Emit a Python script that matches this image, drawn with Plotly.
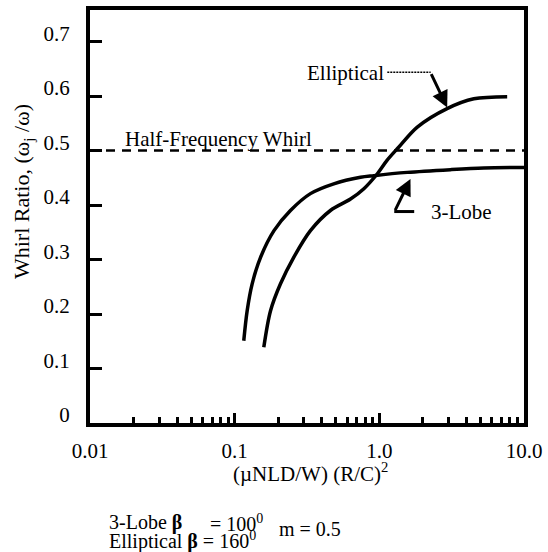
import plotly.graph_objects as go

# ---------------- data ----------------
three_lobe_x = [0.1156, 0.122, 0.132, 0.151, 0.187, 0.243, 0.334, 0.484, 0.741, 0.916, 1.56, 3.10, 5.27, 10.0]
three_lobe_y = [0.151, 0.206, 0.255, 0.304, 0.353, 0.390, 0.421, 0.439, 0.451, 0.454, 0.460, 0.465, 0.468, 0.469]

elliptical_x = [0.159, 0.177, 0.207, 0.256, 0.334, 0.459, 0.632, 0.782, 0.966, 1.13, 1.36, 1.83, 2.94, 4.50, 7.65]
elliptical_y = [0.139, 0.206, 0.255, 0.304, 0.353, 0.390, 0.411, 0.430, 0.457, 0.482, 0.506, 0.543, 0.577, 0.595, 0.599]

half_frequency = 0.5

x_tick_vals = [0.01, 0.1, 1.0, 10.0]
x_tick_text = ["0.01", "0.1", "1.0", "10.0"]
y_tick_vals = [0, 0.1, 0.2, 0.3, 0.4, 0.5, 0.6, 0.7]
y_tick_text = ["0", "0.1", "0.2", "0.3", "0.4", "0.5", "0.6", "0.7"]

FONT = "Liberation Serif, Times New Roman, serif"

minor_vals = [k * 10 ** e for e in (-2, -1, 0) for k in range(2, 10)]

fig = go.Figure()
fig.add_trace(go.Scatter(x=three_lobe_x, y=three_lobe_y, mode="lines",
                         line=dict(color="black", width=3.5, shape="spline", smoothing=0.9),
                         name="3-Lobe", showlegend=False, hoverinfo="skip"))
fig.add_trace(go.Scatter(x=elliptical_x, y=elliptical_y, mode="lines",
                         line=dict(color="black", width=3.5, shape="spline", smoothing=0.9),
                         name="Elliptical", showlegend=False, hoverinfo="skip"))

# half-frequency whirl dashed line
fig.add_shape(type="line", xref="paper", x0=0, x1=1, yref="y", y0=half_frequency, y1=half_frequency,
              line=dict(color="black", width=2.5, dash="9px,7px"))
# leader line after "Elliptical"
fig.add_shape(type="line", xref="paper", yref="paper", x0=0.685, x1=0.785, y0=0.849, y1=0.849,
              line=dict(color="black", width=1.5, dash="2px,1px"))
# bottom bar of the 3-Lobe L-arrow
fig.add_shape(type="line", xref="paper", yref="paper", x0=0.701, x1=0.747, y0=0.512, y1=0.512,
              line=dict(color="black", width=3))

ann = []
# Elliptical label and arrow
ann.append(dict(x=0.0426, y=0.643, xref="x", yref="y", text="Elliptical", showarrow=False,
                xanchor="right", yanchor="middle", font=dict(family=FONT, size=21, color="black")))
ann.append(dict(x=0.469, y=0.579, xref="x", yref="y", ax=0.354, ay=0.643, axref="x", ayref="y",
                text="", showarrow=True, arrowhead=2, arrowsize=1.1, arrowwidth=3, arrowcolor="black",
                standoff=0, startstandoff=0))
# 3-Lobe label and arrow
ann.append(dict(x=0.342, y=0.388, xref="x", yref="y", text="3-Lobe", showarrow=False,
                xanchor="left", yanchor="middle", font=dict(family=FONT, size=21, color="black")))
ann.append(dict(x=0.2154, y=0.448, xref="x", yref="y", ax=0.1048, ay=0.388, axref="x", ayref="y",
                text="", showarrow=True, arrowhead=2, arrowsize=1.1, arrowwidth=3, arrowcolor="black",
                standoff=0, startstandoff=0))
# Half-frequency label
ann.append(dict(x=-1.775, y=0.522, xref="x", yref="y", text="Half-Frequency Whirl", showarrow=False,
                xanchor="left", yanchor="middle", font=dict(family=FONT, size=21, color="black")))
# axis titles
ann.append(dict(x=0.508, y=-0.12, xref="paper", yref="paper", text="(µNLD/W) (R/C)<sup>2</sup>",
                showarrow=False, xanchor="center", yanchor="middle",
                font=dict(family=FONT, size=21, color="black")))
ann.append(dict(x=-0.1555, y=0.5605, xref="paper", yref="paper", text="Whirl Ratio, (ω<sub>j</sub> /ω)",
                showarrow=False, textangle=-90, xanchor="center", yanchor="middle",
                font=dict(family=FONT, size=22, color="black")))
# parameter notes
ann.append(dict(x=0.040, y=-0.241, xref="paper", yref="paper", text="3-Lobe <b>β</b>",
                showarrow=False, xanchor="left", yanchor="middle",
                font=dict(family=FONT, size=20, color="black")))
ann.append(dict(x=0.273, y=-0.241, xref="paper", yref="paper", text="= 100<sup>0</sup>",
                showarrow=False, xanchor="left", yanchor="middle",
                font=dict(family=FONT, size=20, color="black")))
ann.append(dict(x=0.040, y=-0.285, xref="paper", yref="paper", text="Elliptical <b>β</b> = 160<sup>0</sup>",
                showarrow=False, xanchor="left", yanchor="middle",
                font=dict(family=FONT, size=20, color="black")))
ann.append(dict(x=0.432, y=-0.256, xref="paper", yref="paper", text="m = 0.5",
                showarrow=False, xanchor="left", yanchor="middle",
                font=dict(family=FONT, size=20, color="black")))

fig.update_layout(
    width=548, height=552,
    margin=dict(l=90, r=24, t=10, b=129, pad=0, autoexpand=False),
    paper_bgcolor="white", plot_bgcolor="white",
    showlegend=False,
    annotations=ann,
    xaxis=dict(type="log", range=[-2, 1], tickmode="array", tickvals=x_tick_vals, ticktext=x_tick_text,
               ticks="inside", ticklen=10, tickwidth=2.5, tickcolor="black",
               minor=dict(tickmode="array", tickvals=minor_vals, ticks="inside", ticklen=6,
                          tickwidth=2.5, tickcolor="black", showgrid=False),
               showline=True, linewidth=4, linecolor="black", mirror=True,
               showgrid=False, zeroline=False, ticklabelstandoff=6, automargin=False,
               tickfont=dict(family=FONT, size=21, color="black")),
    yaxis=dict(range=[0, 0.758], tickmode="array", tickvals=y_tick_vals, ticktext=y_tick_text,
               ticks="inside", ticklen=12, tickwidth=2.5, tickcolor="black",
               showline=True, linewidth=4, linecolor="black", mirror=True,
               showgrid=False, zeroline=False, ticklabelstandoff=12, ticklabelshift=-8, automargin=False,
               tickfont=dict(family=FONT, size=21, color="black")),
)

fig.write_html("out.html", config={"displayModeBar": False},
               post_script="document.body.style.margin='0px';document.body.style.overflow='hidden';")
